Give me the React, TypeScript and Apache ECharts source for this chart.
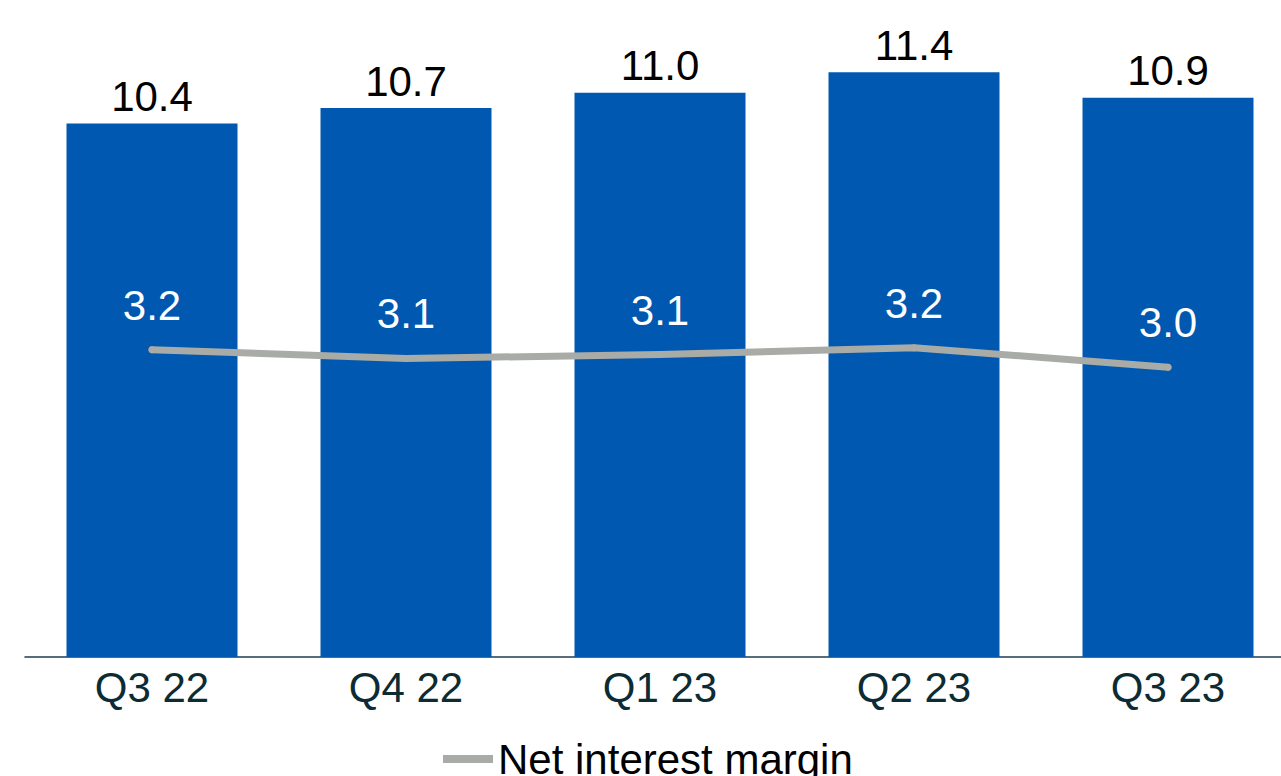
import React, { useEffect, useRef } from "react";
import * as echarts from "echarts";

const categories = ["Q3 22", "Q4 22", "Q1 23", "Q2 23", "Q3 23"];
const barValues = [10.4, 10.7, 11.0, 11.4, 10.9];
const nimValues = [3.16, 3.07, 3.11, 3.18, 2.98];
const legendLabel = "Net interest margin";

const FONT = "'Liberation Sans', Arial, Helvetica, sans-serif";

export default function App() {
  const ref = useRef<HTMLDivElement>(null);
  useEffect(() => {
    if (!ref.current) return;
    const chart = echarts.init(ref.current, undefined, { renderer: "svg" });
    chart.setOption({
      animation: false,
      backgroundColor: "#ffffff",
      grid: { left: 25, right: 0, top: 41.4, height: 615.6, containLabel: false },
      legend: {
        data: [{ name: legendLabel, icon: "rect" }],
        left: 438,
        top: 733,
        itemWidth: 50,
        itemHeight: 8,
        itemGap: 10,
        textStyle: { fontFamily: FONT, fontSize: 42, color: "#000000" },
      },
      xAxis: {
        type: "category",
        data: categories,
        axisLine: { show: true, lineStyle: { color: "#1f3d4c", width: 1.5 } },
        axisTick: { show: false },
        axisLabel: { fontFamily: FONT, fontSize: 42, color: "#0d2b33", margin: 9 },
      },
      yAxis: [
        { type: "value", min: 0, max: 12, show: false, splitLine: { show: false } },
        { type: "value", min: 0, max: 6.33, show: false, splitLine: { show: false } },
      ],
      series: [
        {
          name: "Value",
          type: "bar",
          data: barValues,
          barWidth: 171,
          itemStyle: { color: "#0058b0" },
          label: {
            show: true,
            position: "top",
            distance: 6,
            fontFamily: FONT,
            fontSize: 42,
            color: "#000000",
            formatter: (p: any) => Number(p.value).toFixed(1),
          },
        },
        {
          name: legendLabel,
          type: "line",
          yAxisIndex: 1,
          data: nimValues,
          showSymbol: true,
          symbol: "circle",
          symbolSize: 7,
          lineStyle: { color: "#a9aba6", width: 7, cap: "round", join: "round" },
          itemStyle: { color: "#a9aba6" },
          label: {
            show: true,
            position: "top",
            distance: 20,
            fontFamily: FONT,
            fontSize: 42,
            color: "#ffffff",
            formatter: (p: any) => Number(p.value).toFixed(1),
          },
        },
      ],
    });
    return () => chart.dispose();
  }, []);
  return (
    <div
      ref={ref}
      style={{ position: "fixed", left: 0, top: 0, width: 1295, height: 776 }}
    />
  );
}
